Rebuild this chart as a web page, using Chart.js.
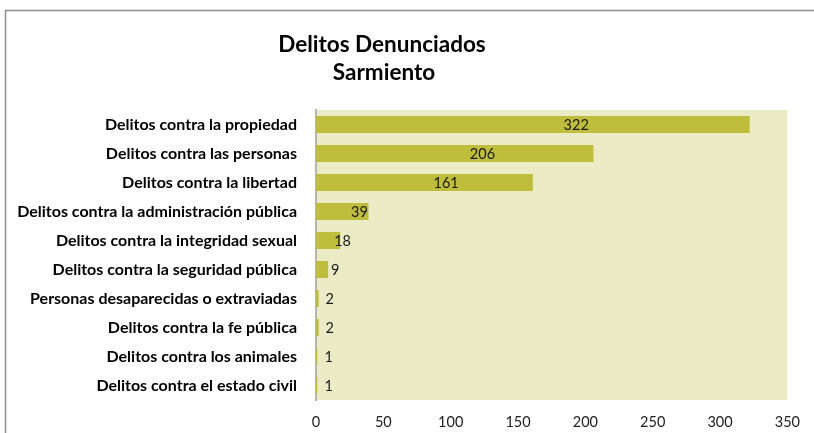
<!DOCTYPE html>
<html>
<head>
<meta charset="utf-8">
<script src="https://cdn.jsdelivr.net/npm/chart.js@4/dist/chart.umd.min.js"></script>
<style>
  html, body { margin: 0; padding: 0; background: #fff; }
  #wrap { width: 814px; height: 433px; position: relative; }
</style>
</head>
<body>
<div id="wrap"><canvas id="grafico" width="814" height="433"></canvas></div>
<script>
const categorias = [
    'Delitos contra la propiedad',
    'Delitos contra las personas',
    'Delitos contra la libertad',
    'Delitos contra la administración pública',
    'Delitos contra la integridad sexual',
    'Delitos contra la seguridad pública',
    'Personas desaparecidas o extraviadas',
    'Delitos contra la fe pública',
    'Delitos contra los animales',
    'Delitos contra el estado civil'
];
const cantidades = [322, 206, 161, 39, 18, 9, 2, 2, 1, 1];
const tituloLineas = ['Delitos Denunciados', 'Sarmiento'];
const ejeMax = 350, ejePaso = 50;

// fondo del area de datos, marco y titulo
const decoracion = {
    id: 'decoracion',
    beforeDraw(chart) {
        const { ctx, chartArea: a } = chart;
        ctx.save();
        ctx.fillStyle = '#EBEBC6';
        ctx.fillRect(a.left, a.top, a.right - a.left, a.bottom - a.top);
        ctx.strokeStyle = '#8c8c8c';
        ctx.lineWidth = 1.5;
        ctx.beginPath();
        ctx.moveTo(5.5, 433);
        ctx.lineTo(5.5, 10.5);
        ctx.lineTo(814, 10.5);
        ctx.stroke();
        ctx.fillStyle = '#000';
        ctx.font = 'bold 22.5px Lato';
        ctx.textAlign = 'center';
        ctx.textBaseline = 'middle';
        ctx.fillText(tituloLineas[0], 382, 45);
        ctx.fillText(tituloLineas[1], 384, 73);
        ctx.restore();
    },
    afterDatasetsDraw(chart) {
        const { ctx } = chart;
        const meta = chart.getDatasetMeta(0);
        const xs = chart.scales.x;
        ctx.save();
        ctx.fillStyle = '#1a1a1a';
        ctx.font = '14.5px Lato';
        ctx.textAlign = 'center';
        ctx.textBaseline = 'middle';
        meta.data.forEach((bar, i) => {
            const largo = bar.x - xs.left;
            const x = xs.left + largo * 0.6 + (largo < 100 ? 12 : 0);
            ctx.fillText(String(cantidades[i]), x, bar.y + 1);
        });
        ctx.restore();
    }
};

new Chart(document.getElementById('grafico'), {
    type: 'bar',
    data: {
        labels: categorias,
        datasets: [{
            data: cantidades,
            backgroundColor: '#BFBE3C',
            borderWidth: 0,
            barPercentage: 0.58,
            categoryPercentage: 1
        }]
    },
    options: {
        indexAxis: 'y',
        responsive: false,
        animation: false,
        layout: { padding: { top: 110, right: 25, left: 0, bottom: 0 } },
        plugins: {
            legend: { display: false },
            title: { display: false },
            tooltip: { enabled: false }
        },
        scales: {
            x: {
                min: 0,
                max: ejeMax,
                grid: { display: false, drawTicks: false },
                border: { display: false },
                ticks: {
                    stepSize: ejePaso,
                    color: '#222',
                    font: { family: 'Lato', size: 14.5 },
                    padding: 14
                },
                afterFit(scale) { scale.height = 33; }
            },
            y: {
                grid: { display: false, drawTicks: false },
                border: { display: true, color: '#b5b5b5', width: 2 },
                ticks: {
                    color: '#000',
                    font: { family: 'Lato', size: 16, weight: 'bold' },
                    padding: 19
                },
                afterFit(scale) { scale.width = 316; }
            }
        }
    },
    plugins: [decoracion]
});
</script>
</body>
</html>
